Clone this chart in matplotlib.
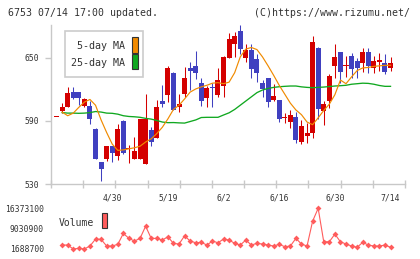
import numpy as np
import matplotlib
matplotlib.use("Agg")
import matplotlib.pyplot as plt
from matplotlib.patches import Rectangle

nan = np.nan

# ---------------- data ----------------
opens = [593.5, 599.5, 603.6, 617.3, 617.3, 604.6, 604.3, 582.4, 550.7, 553.8,
         566.2, 557.0, 590.0, 563.3, 553.5, 553.8, 549.0, 581.4, 573.5, 609.0,
         614.7, 636.0, 603.6, 615.7, 640.1, 642.3, 626.0, 612.3, 622.6, 614.7,
         623.3, 650.3, 663.0, 675.7, 649.7, 657.6, 649.0, 626.5, 630.6, 610.0,
         610.0, 593.2, 589.3, 594.1, 569.7, 576.0, 578.2, 659.8, 599.5, 609.0,
         642.8, 655.4, 642.5, 651.9, 647.1, 644.9, 655.4, 640.8, 646.6, 644.9,
         640.8]
highs = [593.5, 606.8, 622.6, 622.6, 617.3, 612.0, 609.3, 583.3, 550.7, 566.2,
         566.2, 587.0, 591.0, 567.1, 575.0, 592.0, 615.7, 584.0, 610.0, 624.3,
         642.3, 636.2, 615.7, 641.7, 646.4, 656.6, 631.4, 623.3, 626.0, 640.7,
         652.3, 673.5, 674.5, 681.0, 663.3, 663.3, 653.5, 629.0, 631.2, 625.0,
         610.0, 597.3, 600.5, 598.3, 591.0, 587.8, 671.0, 660.0, 609.0, 634.4,
         663.3, 656.0, 651.9, 654.4, 649.7, 659.8, 659.8, 651.9, 654.7, 653.8,
         650.6]
lows = [593.5, 597.3, 603.0, 611.0, 605.2, 603.6, 587.1, 554.0, 533.1, 551.6,
        551.2, 552.8, 559.0, 549.7, 553.5, 553.5, 549.0, 566.2, 573.5, 603.0,
        608.4, 600.2, 599.0, 612.5, 619.5, 629.6, 604.7, 603.6, 603.0, 612.4,
        613.3, 649.7, 651.3, 653.6, 646.4, 631.4, 627.4, 613.3, 603.6, 609.0,
        589.3, 587.8, 583.0, 568.7, 568.0, 568.7, 574.2, 591.6, 586.2, 602.0,
        631.2, 625.9, 631.6, 630.6, 630.6, 637.0, 635.4, 636.0, 638.0, 634.7,
        638.0]
closes = [593.5, 603.0, 616.6, 612.2, 611.6, 610.6, 591.6, 554.1, 544.3, 566.2,
          559.2, 582.2, 559.2, 564.0, 561.4, 591.8, 591.6, 570.3, 603.0, 606.0,
          640.1, 600.4, 606.2, 630.6, 637.9, 636.0, 609.3, 621.1, 621.1, 629.0,
          651.3, 668.0, 671.0, 658.3, 657.6, 639.2, 636.0, 620.2, 608.4, 614.1,
          591.9, 593.8, 595.7, 571.9, 585.2, 578.8, 665.5, 601.1, 606.2, 632.8,
          650.6, 636.3, 643.0, 639.2, 640.1, 655.4, 642.8, 647.1, 648.4, 637.0,
          644.9]
ma5 = [nan, 598.5, 595.0, 597.5, 603.0, 608.0, 610.5, 605.0, 591.0, 579.0,
       568.0, 562.0, 562.5, 563.5, 564.5, 566.0, 570.0, 573.0, 578.0, 584.0,
       592.0, 601.0, 605.0, 611.0, 617.5, 620.5, 622.5, 624.0, 626.0, 626.5,
       625.5, 627.0, 636.0, 651.0, 658.5, 660.0, 658.0, 651.0, 642.5, 633.5,
       624.0, 615.5, 607.0, 600.5, 596.0, 589.0, 586.5, 593.0, 600.0, 606.0,
       615.0, 629.0, 625.5, 632.0, 638.0, 640.5, 641.0, 642.0, 642.5, 643.0,
       643.0]
ma25 = [nan, 598.0, 597.5, 597.5, 597.3, 597.5, 598.0, 599.0, 598.5, 597.5,
        597.3, 596.5, 595.0, 594.3, 594.0, 593.5, 592.5, 591.8, 590.5, 589.0,
        588.4, 588.5, 588.2, 588.0, 589.5, 591.0, 593.3, 593.5, 593.5, 593.5,
        595.7, 597.8, 601.0, 605.0, 609.0, 613.0, 617.0, 619.5, 621.0, 622.0,
        622.6, 623.0, 623.3, 623.3, 622.5, 622.0, 621.7, 622.0, 622.3, 622.8,
        623.3, 623.6, 624.0, 625.0, 625.5, 626.0, 625.8, 625.0, 623.8, 623.0,
        623.0]
volume = [nan, 3120000, 3120000, 1688700, 1940000, 1700000, 2760000, 5270000, 5160000, 2760000,
          2760000, 3370000, 7310000, 5520000, 4550000, 5520000, 9930000, 5520000, 5520000, 4910000,
          6090000, 3730000, 3480000, 6450000, 4550000, 3940000, 4090000, 3120000, 4550000, 3940000,
          5270000, 4910000, 3730000, 3120000, 4910000, 3120000, 3730000, 3480000, 3120000, 2760000,
          3370000, 2510000, 2760000, 5520000, 3480000, 2760000, 11720000, 16373100, 4300000, 4300000,
          7060000, 4300000, 3480000, 2760000, 2300000, 4090000, 3120000, 2760000, 2760000, 3120000,
          2300000]
date_labels = ["4/30", "5/19", "6/2", "6/16", "6/30", "7/14"]
date_index = [10, 20, 30, 40, 50, 60]
price_ticks = [530, 590, 650]
title_left = "6753 07/14 17:00 updated."
title_right = "(C)https://www.rizumu.net/"

# ---------------- style ----------------
RED = "#d40000"
BLUE = "#4040c0"
ORANGE = "#f08a00"
GREEN = "#10a820"
VOLC = "#ff5c5c"
AXC = "#c8c8c8"
TXT = "#333333"
FONT = "DejaVu Sans Mono"
plt.rcParams["font.family"] = [FONT]

W, H = 420, 259
fig = plt.figure(figsize=(W / 100, H / 100), dpi=100)
fig.patch.set_facecolor("white")


def fx(px):
    return px / W


def fy(py):
    return 1 - py / H


o = np.array(opens); c = np.array(closes)
hi = np.array(highs); lo = np.array(lows)
x = np.arange(len(o))
XLIM = (-1.0, 62.6)

# ---------------- price panel ----------------
ax = fig.add_axes([fx(51), fy(184), (405 - 51) / W, (184 - 25) / H])
ax.set_xlim(*XLIM)
ax.set_ylim(530, 681.4)
cols = np.where(c >= o, RED, BLUE)
ax.vlines(x, lo, hi, colors=cols, lw=0.75, zorder=2)
body_lo = np.minimum(o, c)
body_h = np.maximum(np.abs(c - o), 1.0)
ax.bar(x, body_h, bottom=body_lo, width=0.9, color=cols, lw=0, zorder=3)
ax.plot(x, ma25, color=GREEN, lw=0.95, zorder=4)
ax.plot(x, ma5, color=ORANGE, lw=0.85, zorder=5)

for s in ("top", "right"):
    ax.spines[s].set_visible(False)
for s in ("left", "bottom"):
    ax.spines[s].set_color(AXC)
    ax.spines[s].set_linewidth(1.0)
ax.set_yticks(price_ticks)
ax.set_yticklabels([str(v) for v in price_ticks])
ax.tick_params(axis="y", direction="out", length=4.5, width=1.0, color=AXC,
               labelsize=5.8, labelcolor=TXT, pad=4)
ax.set_xticks(np.linspace(XLIM[0], XLIM[1], 12))
ax.set_xticklabels([])
ax.tick_params(axis="x", which="major", direction="inout", length=6, width=1.0, color=AXC)
ax.set_xticks(date_index, minor=True)
ax.set_xticklabels(date_labels, minor=True)
ax.tick_params(axis="x", which="minor", length=0, pad=6.5, labelsize=5.8, labelcolor=TXT)

# legend of price panel
fig.add_artist(Rectangle((fx(65), fy(77)), (143 - 65) / W, (77 - 31) / H,
                         transform=fig.transFigure, facecolor="white",
                         edgecolor="#cccccc", lw=1.2, zorder=6))
fig.text(fx(125), fy(46.2), "5-day MA", ha="right", va="center", fontsize=7.2,
         color=TXT, zorder=7)
fig.text(fx(125), fy(62.8), "25-day MA", ha="right", va="center", fontsize=7.2,
         color=TXT, zorder=7)
fig.add_artist(Rectangle((fx(131.7), fy(52.7)), 6 / W, 16 / H, transform=fig.transFigure,
                         facecolor=ORANGE, edgecolor=TXT, lw=0.8, zorder=7))
fig.add_artist(Rectangle((fx(131.7), fy(69.3)), 6 / W, 15.3 / H, transform=fig.transFigure,
                         facecolor=GREEN, edgecolor=TXT, lw=0.8, zorder=7))

# ---------------- volume panel ----------------
vol = np.array(volume, dtype=float)
vmin, vmax = np.nanmin(vol), np.nanmax(vol)
ax2 = fig.add_axes([fx(51), fy(249), (405 - 51) / W, (249 - 208.3) / H])
ax2.set_xlim(*XLIM)
ax2.set_ylim(vmin, vmax)
ax2.plot(x, vol, color=VOLC, lw=0.8, marker="D", ms=3.0, mew=0, clip_on=False)
for s in ax2.spines.values():
    s.set_visible(False)
ax2.set_xticks([])
vt = [vmin, (vmin + vmax) / 2, vmax]
ax2.set_yticks(vt)
ax2.set_yticklabels([f"{int(round(v))}" for v in vt])
ax2.tick_params(axis="y", length=0, pad=5, labelsize=5.8, labelcolor=TXT)
ax2.patch.set_alpha(0)

fig.text(fx(94), fy(222.8), "Volume", ha="right", va="center", fontsize=7.0, color=TXT)
fig.add_artist(Rectangle((fx(101.7), fy(228.3)), 5.6 / W, 15 / H, transform=fig.transFigure,
                         facecolor=VOLC, edgecolor=TXT, lw=0.8, zorder=7))

# ---------------- header ----------------
fig.text(fx(8), fy(12.5), title_left, ha="left", va="center", fontsize=7.1, color=TXT)
fig.text(fx(409.5), fy(12.5), title_right, ha="right", va="center", fontsize=7.1, color=TXT)

fig.savefig("out.png", dpi=100)
